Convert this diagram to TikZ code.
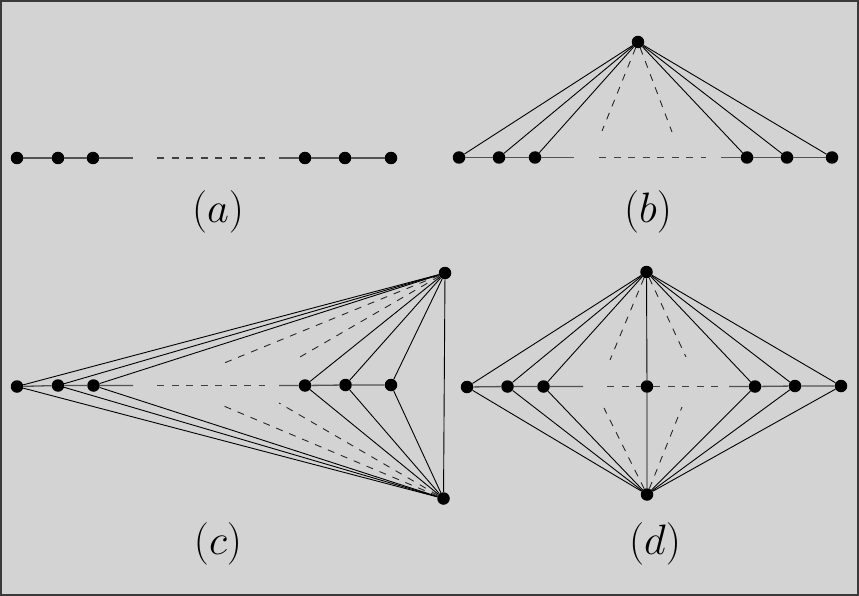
\documentclass[tikz,border=0pt]{standalone}
\usetikzlibrary{backgrounds}
\definecolor{bg}{HTML}{D3D3D3}
\definecolor{frame}{HTML}{3A3A3A}
\newcommand{\biglab}[1]{\scalebox{2.05}{\huge$#1$}}
\tikzset{
  vtx/.style={circle,fill=black,inner sep=0pt,minimum size=12.5pt},
  hline/.style={line width=1.3pt,black!68},
  hdash/.style={line width=1.1pt,black!75,dash pattern=on 7pt off 7.5pt},
  edge/.style={line width=0.9pt,black},
  dedge/.style={line width=0.9pt,black!85,dash pattern=on 7pt off 7pt},
  lab/.style={inner sep=0pt}
}
\begin{document}
\begin{tikzpicture}[x=1pt,y=-1pt]
\fill[bg] (0,0) rectangle (859,596);
\draw[frame,line width=2pt] (1,1) rectangle (858,595);
\useasboundingbox (0,0) rectangle (859,596);
% ---------- (a)
\node[vtx] (a1) at (17,158) {};
\node[vtx] (a2) at (58,158) {};
\node[vtx] (a3) at (93,158) {};
\node[vtx] (a4) at (305,158) {};
\node[vtx] (a5) at (345,158) {};
\node[vtx] (a6) at (391,158) {};
\coordinate (ae1) at (133,158);
\coordinate (ad1) at (157,158);
\coordinate (ad2) at (265,158);
\coordinate (ae2) at (279,158);
\draw[hline] (a1) -- (a2) -- (a3) -- (ae1);
\draw[hdash] (ad1) -- (ad2);
\draw[hline] (ae2) -- (a4) -- (a5) -- (a6);
\node[lab] (la) at (218,212) {\biglab{(a)}};
% ---------- (b)
\node[vtx] (bt) at (638,42) {};
\node[vtx] (b1) at (459,157.5) {};
\node[vtx] (b2) at (499,157.5) {};
\node[vtx] (b3) at (535,157.5) {};
\node[vtx] (b4) at (747,157.5) {};
\node[vtx] (b5) at (787,157.5) {};
\node[vtx] (b6) at (832,157.5) {};
\coordinate (be1) at (574,157.5);
\coordinate (bd1) at (599,157.5);
\coordinate (bd2) at (706,157.5);
\coordinate (be2) at (721,157.5);
\coordinate (bl) at (602,131);
\coordinate (br) at (672,132);
\draw[hline] (b1) -- (b2) -- (b3) -- (be1);
\draw[hdash] (bd1) -- (bd2);
\draw[hline] (be2) -- (b4) -- (b5) -- (b6);
\foreach \n in {b1,b2,b3,b4,b5,b6} \draw[edge] (bt) -- (\n);
\draw[dedge] (bt) -- (bl);
\draw[dedge] (bt) -- (br);
\node[lab] (lb) at (648,212) {\biglab{(b)}};
% ---------- (c)
\node[vtx] (ct) at (445,273) {};
\node[vtx] (cb) at (443.5,498.5) {};
\node[vtx] (c1) at (17,386.5) {};
\node[vtx] (c2) at (58,385.5) {};
\node[vtx] (c3) at (93.5,385.5) {};
\node[vtx] (c4) at (305,385.5) {};
\node[vtx] (c5) at (345.5,385) {};
\node[vtx] (c6) at (391,385) {};
\coordinate (ce1) at (133,385.5);
\coordinate (cd1) at (157,385.5);
\coordinate (cd2) at (265,385.5);
\coordinate (ce2) at (279,385.5);
\coordinate (cu1) at (223,363.5);
\coordinate (cu2) at (300,357);
\coordinate (cl1) at (219,404);
\coordinate (cl2) at (279,403);
\draw[hline] (c1) -- (c2) -- (c3) -- (ce1);
\draw[hdash] (cd1) -- (cd2);
\draw[hline] (ce2) -- (c4) -- (c5) -- (c6);
\foreach \n in {c1,c2,c3,c4,c5,c6} {\draw[edge] (ct) -- (\n); \draw[edge] (cb) -- (\n);}
\draw[edge] (ct) -- (cb);
\draw[dedge] (ct) -- (cu1);
\draw[dedge] (ct) -- (cu2);
\draw[dedge] (cb) -- (cl1);
\draw[dedge] (cb) -- (cl2);
\node[lab] (lc) at (218,544) {\biglab{(c)}};
% ---------- (d)
\node[vtx] (dt) at (646.5,272) {};
\node[vtx] (db) at (647,494.5) {};
\node[vtx] (dm) at (647,386.5) {};
\node[vtx] (d1) at (467,387) {};
\node[vtx] (d2) at (507.5,386.5) {};
\node[vtx] (d3) at (543.5,386.5) {};
\node[vtx] (d4) at (755,386.5) {};
\node[vtx] (d5) at (795,386) {};
\node[vtx] (d6) at (841,386) {};
\coordinate (de1) at (583,386.5);
\coordinate (dd1) at (607,386.5);
\coordinate (dd2) at (720,386.5);
\coordinate (de2) at (729,386.5);
\coordinate (du1) at (610,360);
\coordinate (du2) at (686,357);
\coordinate (dl1) at (604,408);
\coordinate (dl2) at (682,407);
\draw[hline] (d1) -- (d2) -- (d3) -- (de1);
\draw[hdash] (dd1) -- (dm) -- (dd2);
\draw[hline] (de2) -- (d4) -- (d5) -- (d6);
\foreach \n in {d1,d2,d3,d4,d5,d6} {\draw[edge] (dt) -- (\n); \draw[edge] (db) -- (\n);}
\draw[edge] (dt) -- (dm) -- (db);
\draw[dedge] (dt) -- (du1);
\draw[dedge] (dt) -- (du2);
\draw[dedge] (db) -- (dl1);
\draw[dedge] (db) -- (dl2);
\node[lab] (ld) at (655,544) {\biglab{(d)}};
\end{tikzpicture}
\end{document}
